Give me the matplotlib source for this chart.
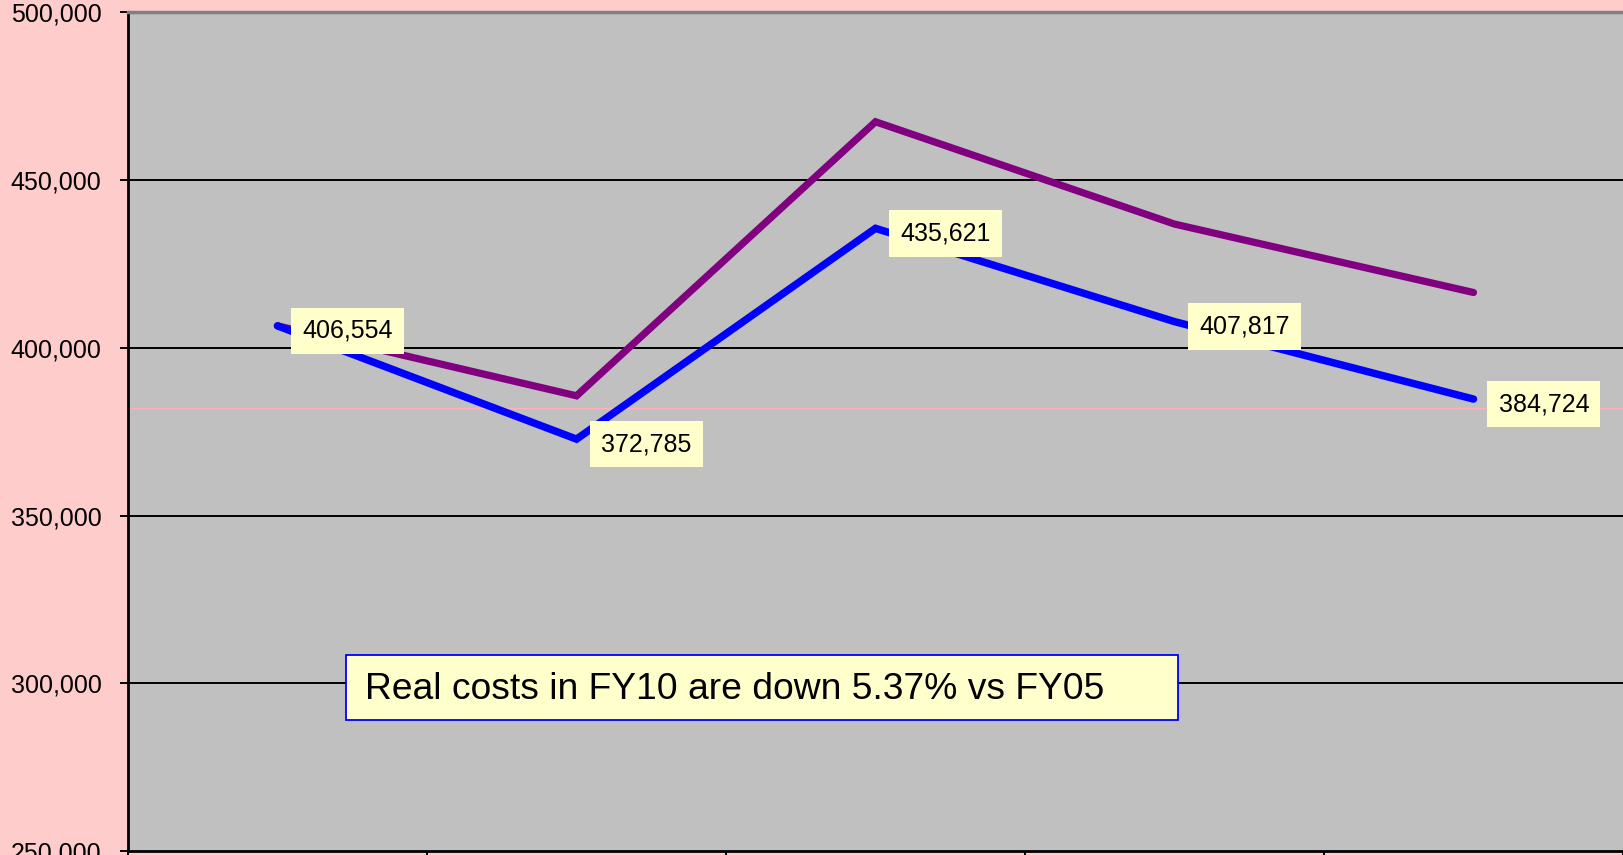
import matplotlib
matplotlib.use("Agg")
import matplotlib.pyplot as plt
from matplotlib.patches import Rectangle
from matplotlib.ticker import FuncFormatter, FixedLocator

plt.rcParams['font.family'] = ['Liberation Sans', 'DejaVu Sans']

categories = ["FY06", "FY07", "FY08", "FY09", "FY10"]
real_costs = [406554, 372785, 435621, 407817, 384724]
nominal_costs = [406554, 385700, 467400, 436900, 416500]
reference_level = 382000
y_ticks = [250000, 300000, 350000, 400000, 450000, 500000]
note_text = "Real costs in FY10 are down 5.37% vs FY05"

fig = plt.figure(figsize=(16.23, 8.55), dpi=100, facecolor="#FFCCCC")
ax = fig.add_axes([128/1623, 1 - 851/855, 1 - 128/1623, (851 - 12.4)/855])
ax.set_facecolor("#C0C0C0")

x = list(range(len(categories)))
ax.set_xlim(-0.5, len(categories) - 0.5)
ax.set_ylim(y_ticks[0], y_ticks[-1])

for v in y_ticks[1:-1]:
    ax.axhline(v, color="black", lw=1.4, zorder=1)
ax.axhline(reference_level, color="#FFB0B8", lw=1.0, zorder=1)

ax.plot(x, nominal_costs, color="#800080", lw=5.2, solid_capstyle="round", solid_joinstyle="miter", zorder=3)
ax.plot(x, real_costs, color="#0000FF", lw=5.4, solid_capstyle="round", solid_joinstyle="miter", zorder=4)

for xi, v in zip(x, real_costs):
    ax.annotate(f"{v:,}", xy=(xi, v), xytext=(25, -5), textcoords="offset pixels",
                ha="left", va="center", fontsize=18, color="black", zorder=5,
                bbox=dict(boxstyle="square,pad=0.45", fc="#FFFFCC", ec="none"))

ax.set_yticks(y_ticks)
ax.yaxis.set_major_formatter(FuncFormatter(lambda v, p: f"{int(v):,}"))
ax.tick_params(axis="y", labelsize=18, length=6, width=1.4, pad=13, colors="black")
ax.xaxis.set_major_locator(FixedLocator([i - 0.5 for i in range(len(categories) + 1)]))
ax.set_xticklabels([])
ax.tick_params(axis="x", length=6, width=1.4, direction="out")

for s in ["left", "bottom"]:
    ax.spines[s].set_color("black")
    ax.spines[s].set_linewidth(2)
ax.spines["top"].set_color("#808080")
ax.spines["top"].set_linewidth(2.5)
ax.spines["right"].set_visible(False)

ax.add_patch(Rectangle((0.1458, 0.1562), 0.7023 - 0.1458, 0.2337 - 0.1562, transform=ax.transAxes,
                       facecolor="#FFFFCC", edgecolor="#0000FF", lw=1.3, zorder=6))
ax.text(0.1585, 0.193, note_text, transform=ax.transAxes, ha="left", va="center",
        fontsize=26.8, color="black", zorder=7)

fig.savefig("out.png", dpi=100, facecolor=fig.get_facecolor())
